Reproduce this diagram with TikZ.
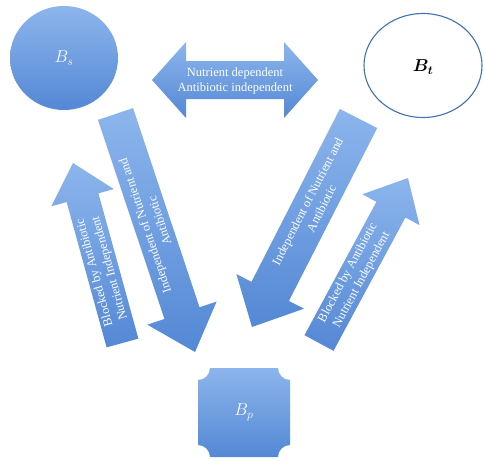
\documentclass[tikz,border=0pt]{standalone}
\usepackage{amsmath}
\usepackage{bm}
\usepackage{fontspec}
\setmainfont{Liberation Serif}
\DeclareMathSizes{16}{16}{12}{9}
\usetikzlibrary{calc}
\definecolor{blueTop}{HTML}{8CB5EC}
\definecolor{blueBot}{HTML}{5488D5}
\definecolor{ringBlue}{HTML}{3F73B6}
\tikzset{
  blockfill/.style={top color=blueTop, bottom color=blueBot, draw=none},
  armtext/.style={text=white, font=\fontsize{12.5}{15.5}\selectfont, align=center, inner sep=0pt},
  lbl/.style={font=\fontsize{16}{18}\selectfont, inner sep=0pt}
}
% block arrow: #1 tail centre, #2 tip, #3 half shaft width, #4 half head width,
% #5 head length, #6 prefix for the head-base coordinate
\newcommand\blockarrow[6]{%
  \coordinate (#6h) at ($(#2)!#5!(#1)$);
  \path[blockfill]
    ($(#1)!#3!90:(#2)$) -- ($(#6h)!#3!90:(#2)$) -- ($(#6h)!#4!90:(#2)$) --
    (#2) --
    ($(#6h)!#4!-90:(#2)$) -- ($(#6h)!#3!-90:(#2)$) -- ($(#1)!#3!-90:(#2)$) -- cycle;
}
\begin{document}
\begin{tikzpicture}[x=1pt,y=1pt]
\useasboundingbox (0,0) rectangle (484,-460);

% B_s : filled circle
\path[blockfill] (64,-58) ellipse [x radius=54, y radius=52];
\node[lbl, text=white] (bs) at (64,-58) {$B_s$};

% B_t : outlined ellipse
\draw[ringBlue, line width=1.1pt, fill=white] (423,-65.5) ellipse [x radius=59, y radius=52];
\node[lbl, text=black] (bt) at (423,-67) {$\bm{B_t}$};

% B_p : plaque
\path[blockfill] (210,-368) -- (278,-368)
  arc[start angle=180, end angle=270, radius=12] -- (290,-445)
  arc[start angle=90, end angle=180, radius=12] -- (210,-457)
  arc[start angle=0, end angle=90, radius=12] -- (198,-380)
  arc[start angle=270, end angle=360, radius=12] -- cycle;
\node[lbl, text=white] (bp) at (244,-412) {$B_p$};

% double arrow between B_s and B_t
\path[blockfill] (152,-80) -- (186,-42) -- (186,-61) -- (284,-61) -- (284,-42)
  -- (318,-80) -- (284,-118) -- (284,-99) -- (186,-99) -- (186,-118) -- cycle;
\node[armtext] (top) at (235,-81) {Nutrient dependent\\Antibiotic independent};

% B_s -> B_p
\coordinate (a1t) at (115.5,-114);
\coordinate (a1p) at (195,-352);
\blockarrow{a1t}{a1p}{18.5pt}{36.5pt}{41pt}{a1}
\node[armtext, rotate=108.5] (l1) at ($(a1t)!0.55!(a1h)$) {Independent of Nutrient and\\Antibiotic};

% B_p -> B_s
\coordinate (a2t) at (122.5,-343);
\coordinate (a2p) at (73,-163);
\blockarrow{a2t}{a2p}{16.5pt}{32.5pt}{36pt}{a2}
\node[armtext, rotate=105.4] (l2) at ($(a2t)!0.5!(a2h)$) {Blocked by Antibiotic\\Nutrient Independent};

% B_t -> B_p
\coordinate (a3t) at (358.5,-118.5);
\coordinate (a3p) at (252,-327);
\blockarrow{a3t}{a3p}{21pt}{38pt}{40pt}{a3}
\node[armtext, rotate=62.9] (l3) at ($(a3t)!0.5!(a3h)$) {Independent of Nutrient and\\Antibiotic};

% B_p -> B_t
\coordinate (a4t) at (319,-343);
\coordinate (a4p) at (408,-178);
\blockarrow{a4t}{a4p}{16.5pt}{32.5pt}{36pt}{a4}
\node[armtext, rotate=61.7] (l4) at ($(a4t)!0.5!(a4h)$) {Blocked by Antibiotic\\Nutrient Independent};
\end{tikzpicture}
\end{document}
